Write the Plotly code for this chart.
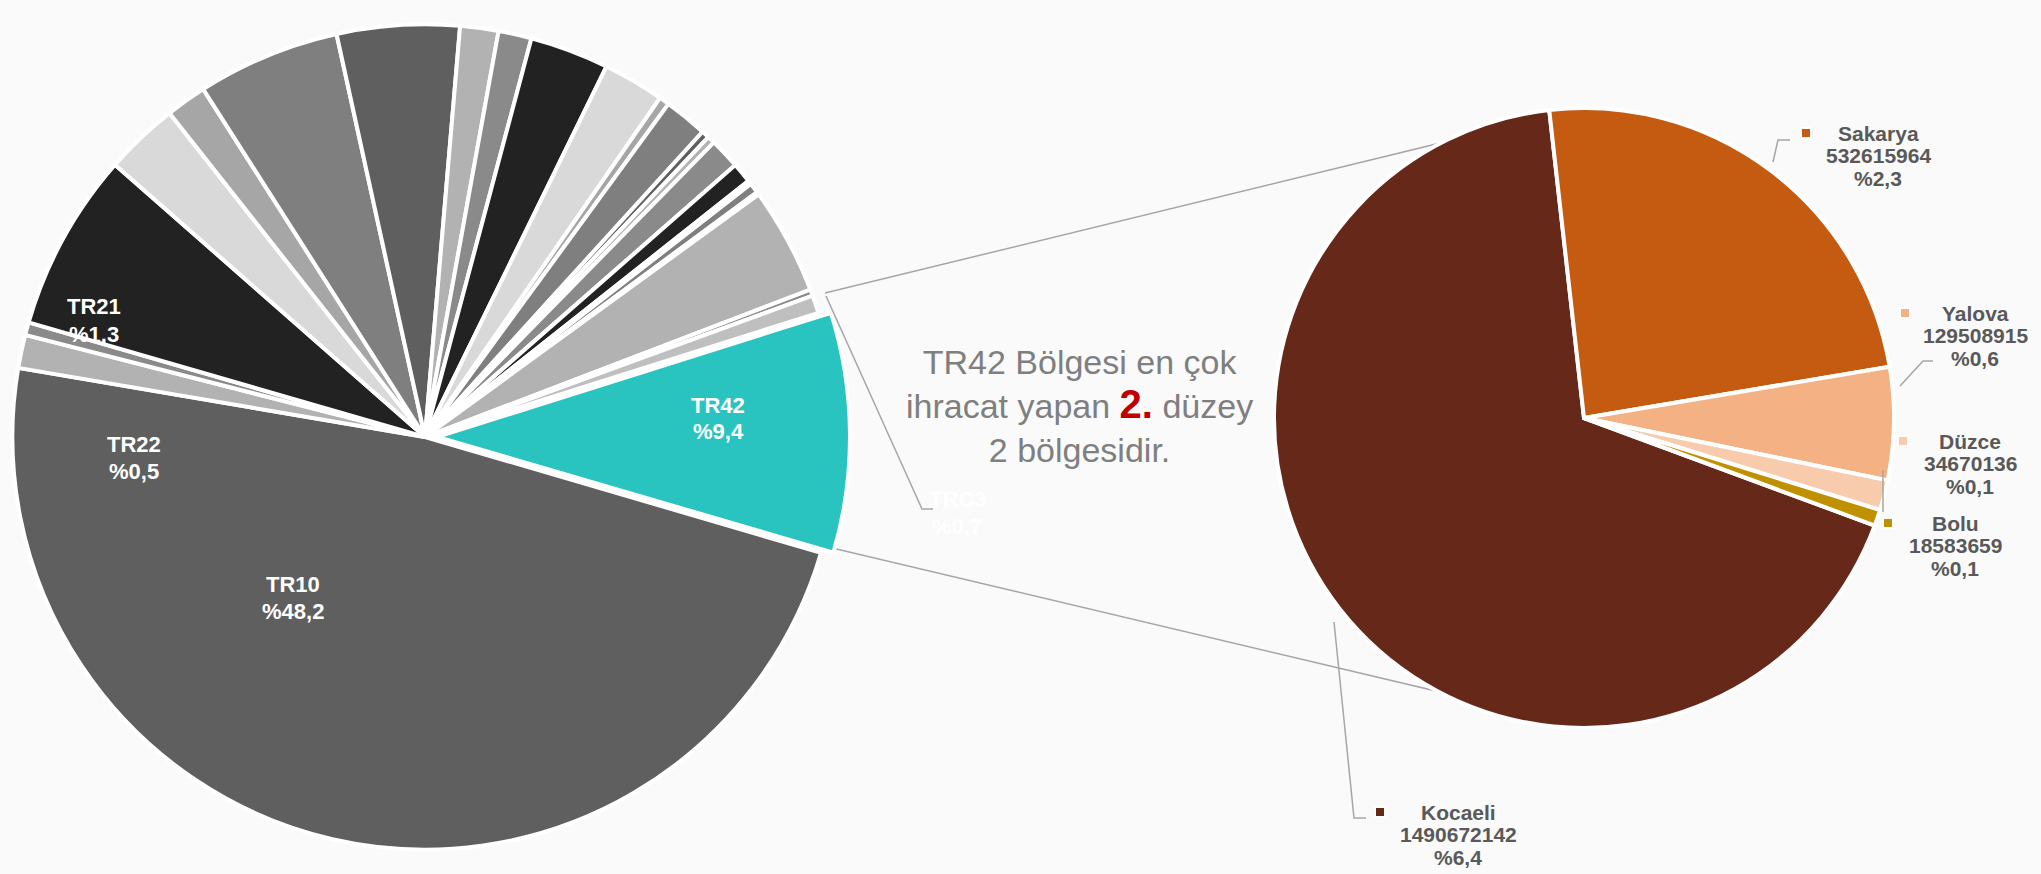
import plotly.graph_objects as go

W, H = 2041, 874

# left pie: level-2 regions, share of total exports (%)
regions = ["TR10", "TR21", "TR22", "TR31", "TR32", "TR33", "TR41", "TR51", "TR52",
           "TR61", "TR62", "TR63", "TR71", "TR72", "TR81", "TR82", "TR83", "TR90",
           "TRA1", "TRA2", "TRB1", "TRB2", "TRC1", "TRC2", "TRC3", "TR42"]
shares = [48.2, 1.3, 0.5, 7.0, 2.9, 1.6, 5.6, 4.8, 1.5,
          1.3, 3.1, 2.4, 0.4, 1.7, 0.3, 0.3, 1.2, 0.8,
          0.05, 0.1, 0.4, 0.1, 4.2, 0.25, 0.7, 9.4]
region_colors = ["#5f5f5f", "#b2b2b2", "#8a8a8a", "#222222", "#d9d9d9", "#a6a6a6", "#7f7f7f",
                 "#5f5f5f", "#b2b2b2", "#8a8a8a", "#222222", "#d9d9d9", "#a6a6a6", "#7f7f7f",
                 "#5f5f5f", "#b2b2b2", "#8a8a8a", "#222222", "#d9d9d9", "#a6a6a6", "#7f7f7f",
                 "#5f5f5f", "#b2b2b2", "#8a8a8a", "#bfbfbf", "#2ac4c0"]
labelled = ["TR21", "TR22", "TR10", "TR42", "TRC3"]

# right pie: provinces of TR42
provinces = ["Kocaeli", "Sakarya", "Yalova", "Düzce", "Bolu"]
exports = [1490672142, 532615964, 129508915, 34670136, 18583659]
prov_shares = [6.4, 2.3, 0.6, 0.1, 0.1]
prov_colors = ["#662818", "#c55a11", "#f4b183", "#f8cbad", "#bf9000"]


def P(x, y):
    return x / W, 1 - y / H


def pct(v):
    return "%" + f"{v:.1f}".replace(".", ",")


fig = go.Figure()

fig.add_trace(go.Pie(
    labels=regions, values=shares, sort=False, direction="clockwise", rotation=106.3,
    marker=dict(colors=region_colors, line=dict(color="white", width=4)),
    pull=[0.03 if r == "TR42" else 0 for r in regions],
    textinfo="none", showlegend=False,
    domain=dict(x=[0, 850 / W], y=[0, 1]),
))

fig.add_trace(go.Pie(
    labels=provinces, values=exports, sort=False, direction="clockwise", rotation=110.3,
    marker=dict(colors=prov_colors, line=dict(color="white", width=4)),
    textinfo="none", showlegend=False,
    domain=dict(x=[1274 / W, 1894 / W], y=[1 - 728 / H, 1 - 108 / H]),
))

shapes = []
annots = []


def line(pts, color="#a6a6a6", width=1.5, layer="below"):
    path = "M " + " L ".join("%f,%f" % P(x, y) for x, y in pts)
    shapes.append(dict(type="path", path=path, xref="paper", yref="paper",
                       line=dict(color=color, width=width), layer=layer))


def text_lines(x, y, lines, size, color, step):
    for i, t in enumerate(lines):
        px, py = P(x, y + i * step)
        annots.append(dict(x=px, y=py, xref="paper", yref="paper", text=t, showarrow=False,
                           xanchor="center", yanchor="middle",
                           font=dict(family="Liberation Sans, Arial, sans-serif", size=size, color=color)))


# series lines between pies
line([(825, 293), (1584, 108)])
line([(828, 547), (1592, 728)])

# left pie labels
left_pos = {"TR21": (94, 320), "TR22": (134, 457), "TR10": (293, 597), "TR42": (718, 418), "TRC3": (957, 512)}
for r in labelled:
    x, y = left_pos[r]
    s = shares[regions.index(r)]
    text_lines(x, y - 13, ["<b>%s</b>" % r, "<b>%s</b>" % pct(s)], 22, "white", 27)
line([(826, 296), (922, 509), (933, 509)], layer="above")

# right pie labels
right_pos = {"Sakarya": (1878, 133, 1806), "Yalova": (1975, 313, 1905), "Düzce": (1970, 441, 1903),
             "Bolu": (1955, 523, 1888), "Kocaeli": (1458, 812, 1380)}
for i, p in enumerate(provinces):
    x, y, sx = right_pos[p]
    text_lines(x, y, ["<b>%s</b>" % p, "<b>%d</b>" % exports[i], "<b>%s</b>" % pct(prov_shares[i])],
               21, "#595959", 22.5)
    x0, y0 = P(sx - 5, y - 5)
    x1, y1 = P(sx + 5, y + 5)
    shapes.append(dict(type="rect", xref="paper", yref="paper", x0=x0, y0=y0, x1=x1, y1=y1,
                       fillcolor=prov_colors[i], line=dict(color="white", width=2), layer="above"))

line([(1773, 162), (1778, 140), (1790, 140)], layer="above")
line([(1900, 386), (1923, 361), (1933, 361)], layer="above")
line([(1883, 470), (1883, 512)], layer="above")
line([(1334, 622), (1354, 818), (1366, 818)], layer="above")

# centre note
cx, cy = P(1079, 406)
annots.append(dict(
    x=cx, y=cy, xref="paper", yref="paper", showarrow=False, xanchor="center", yanchor="middle",
    text="TR42 Bölgesi en çok<br>ihracat yapan <b><span style='color:#c00000;font-size:40px'>2.</span></b> düzey<br>2 bölgesidir.",
    font=dict(family="Liberation Sans, Arial, sans-serif", size=34, color="#7f7f7f"),
))

fig.update_layout(
    width=W, height=H, margin=dict(l=0, r=0, t=0, b=0),
    paper_bgcolor="#fafafa", plot_bgcolor="#fafafa",
    shapes=shapes, annotations=annots,
)

fig.write_html("out.html", config={"displayModeBar": False},
               post_script="document.body.style.margin='0';document.body.style.background='#fafafa';")
